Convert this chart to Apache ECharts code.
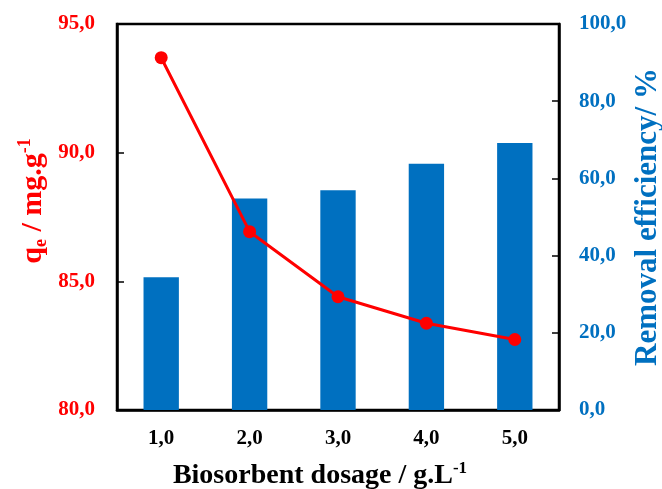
<!DOCTYPE html>
<html>
<head>
<meta charset="utf-8">
<script src="https://cdn.jsdelivr.net/npm/echarts@6/dist/echarts.min.js"></script>
<style>html,body{margin:0;padding:0;background:#fff}#c{width:662px;height:489px}</style>
</head>
<body>
<div id="c"></div>
<script>
const categories = ['1,0', '2,0', '3,0', '4,0', '5,0'];
const qeValues = [93.69, 86.93, 84.40, 83.37, 82.74];
const removalValues = [34.4, 54.8, 56.9, 63.8, 69.2];

const RED = '#FF0000';
const BLUE = '#0070C0';
const FONT = '"Liberation Serif", "Times New Roman", serif';
const fmt = v => v.toFixed(1).replace('.', ',');

const chart = echarts.init(document.getElementById('c'));
chart.setOption({
  animation: false,
  backgroundColor: '#fff',
  grid: {
    left: 117, right: 103, top: 24, bottom: 79,
    outerBoundsMode: 'none', containLabel: false,
    show: true, borderColor: '#000', borderWidth: 2.5, backgroundColor: 'transparent'
  },
  xAxis: {
    type: 'category',
    data: categories,
    boundaryGap: true,
    axisLine: { lineStyle: { color: '#000', width: 2.5 } },
    axisTick: { inside: true, length: 7, lineStyle: { color: '#000', width: 1.5 } },
    axisLabel: { color: '#000', fontFamily: FONT, fontWeight: 'bold', fontSize: 21, margin: 18 },
    name: '{a|Biosorbent dosage / g.L}{s|-1}',
    nameLocation: 'middle',
    nameGap: 50,
    nameMoveOverlap: false,
    nameTextStyle: {
      padding: [0, 36, 0, 0],
      rich: {
        a: { fontFamily: FONT, fontWeight: 'bold', fontSize: 28, color: '#000', lineHeight: 32, verticalAlign: 'middle' },
        s: { fontFamily: FONT, fontWeight: 'bold', fontSize: 17, color: '#000', lineHeight: 14, verticalAlign: 'top' }
      }
    }
  },
  yAxis: [
    {
      type: 'value', min: 80, max: 95, interval: 5, position: 'left',
      axisLine: { show: true, lineStyle: { color: '#000', width: 2.5 } },
      axisTick: { show: true, inside: true, length: 7, lineStyle: { color: '#000', width: 1.5 } },
      splitLine: { show: false },
      axisLabel: { color: RED, fontFamily: FONT, fontWeight: 'bold', fontSize: 21, margin: 22, formatter: fmt },
      name: '{a|q}{b|e}{a| / mg.g}{s|-1}',
      nameLocation: 'middle',
      nameRotate: 90,
      nameGap: 67,
      nameMoveOverlap: false,
      nameTextStyle: {
        padding: [0, 0, 0, 32],
        rich: {
          a: { fontFamily: FONT, fontWeight: 'bold', fontSize: 30, color: RED, lineHeight: 34, verticalAlign: 'middle' },
          b: { fontFamily: FONT, fontWeight: 'bold', fontSize: 18, color: RED, lineHeight: 10, verticalAlign: 'bottom' },
          s: { fontFamily: FONT, fontWeight: 'bold', fontSize: 18, color: RED, lineHeight: 14, verticalAlign: 'top' }
        }
      }
    },
    {
      type: 'value', min: 0, max: 100, interval: 20, position: 'right',
      axisLine: { show: true, lineStyle: { color: '#000', width: 2.5 } },
      axisTick: { show: true, inside: true, length: 7, lineStyle: { color: '#000', width: 1.5 } },
      splitLine: { show: false },
      axisLabel: { color: BLUE, fontFamily: FONT, fontWeight: 'bold', fontSize: 21, margin: 20, formatter: fmt },
      name: 'Removal efficiency/ %',
      nameLocation: 'middle',
      nameRotate: 90,
      nameGap: 73,
      nameMoveOverlap: false,
      nameTextStyle: { fontFamily: FONT, fontWeight: 'bold', fontSize: 31, color: BLUE }
    }
  ],
  series: [
    {
      type: 'bar', yAxisIndex: 1, data: removalValues, barWidth: '40%',
      itemStyle: { color: BLUE }, z: 1
    },
    {
      type: 'line', yAxisIndex: 0, data: qeValues,
      symbol: 'circle', symbolSize: 13,
      lineStyle: { color: RED, width: 3 },
      itemStyle: { color: RED }, z: 3
    }
  ]
});
</script>
</body>
</html>
